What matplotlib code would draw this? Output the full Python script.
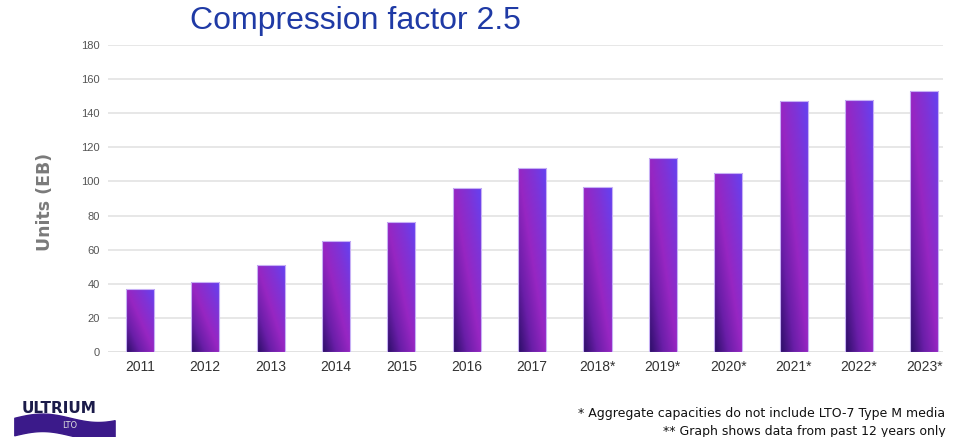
import numpy as np
import matplotlib
matplotlib.use("Agg")
import matplotlib.pyplot as plt
from matplotlib.colors import LinearSegmentedColormap
from matplotlib.patches import Rectangle

years = ["2011", "2012", "2013", "2014", "2015", "2016", "2017",
         "2018*", "2019*", "2020*", "2021*", "2022*", "2023*"]
units_eb = [37, 41, 51, 65, 76, 96, 108, 97, 114, 105, 147, 148, 153]
yticks = [0, 20, 40, 60, 80, 100, 120, 140, 160, 180]

title = "Compression factor 2.5"
ylabel = "Units (EB)"
note1 = "* Aggregate capacities do not include LTO-7 Type M media"
note2 = "** Graph shows data from past 12 years only"

cmap = LinearSegmentedColormap.from_list(
    "lto", ["#2a0e66", "#6a1ea8", "#9726c2", "#7f33d6", "#6342f2"])

fig = plt.figure(figsize=(9.55, 4.37), dpi=100)
ax = fig.add_axes([0.113, 0.1945, 0.874, 0.7025])

x = np.arange(len(years))
width = 0.43
bars = ax.bar(x, units_eb, width=width, color="none", edgecolor="none", zorder=3)

# gradient fill for each bar
nu, nv = 40, 200
u = np.linspace(0, 1, nu)
v = np.linspace(0, 1, nv)
U, V = np.meshgrid(u, v)
grad = 0.5 * U + 0.5 * V
for b in bars:
    x0, y0 = b.get_x(), b.get_y()
    w, h = b.get_width(), b.get_height()
    im = ax.imshow(grad, cmap=cmap, origin="lower", aspect="auto",
                   extent=[x0, x0 + w, y0, y0 + h], zorder=3,
                   interpolation="bilinear", vmin=0, vmax=1)
    clip = Rectangle((x0, y0), w, h, transform=ax.transData)
    im.set_clip_path(clip)
    ax.add_patch(Rectangle((x0, y0), w, h, fill=False, edgecolor="#c7b0f5",
                           linewidth=0.8, zorder=4))

ax.set_xlim(-0.49, 12.28)
ax.set_ylim(0, 180)
ax.set_yticks(yticks)
ax.set_yticklabels([str(t) for t in yticks], fontsize=8, color="#555555",
                   family="Liberation Sans")
ax.set_xticks(x)
ax.set_xticklabels(years, fontsize=10, color="#333333", family="Liberation Sans")
ax.tick_params(axis="both", length=0, pad=6)
ax.yaxis.grid(True, color="#e3e3e3", linewidth=1.2, zorder=0)
for s in ax.spines.values():
    s.set_visible(False)
ax.axhline(0, color="#dddddd", linewidth=1.2, zorder=1)

fig.text(0.047, 0.538, ylabel, rotation=90, ha="center", va="center",
         fontsize=12.5, fontweight="heavy", color="#7a7a7a", family="DejaVu Sans")

fig.text(0.199, 0.952, title, ha="left", va="center", fontsize=23,
         color="#1f3aa5", family="Liberation Sans")

fig.text(0.99, 0.054, note1, ha="right", va="center", fontsize=9,
         color="#111111", family="Liberation Sans Narrow")
fig.text(0.99, 0.012, note2, ha="right", va="center", fontsize=9,
         color="#111111", family="Liberation Sans Narrow")

# logo
lax = fig.add_axes([0.015, 0.0, 0.105, 0.08])
lax.set_xlim(0, 1)
lax.set_ylim(0, 1)
lax.axis("off")
wx = np.linspace(0, 1, 100)
top = 0.55 + 0.12 * np.sin(wx * 2 * np.pi * 0.9)
bot = 0.05 + 0.12 * np.sin(wx * 2 * np.pi * 0.9)
lax.fill_between(wx, bot, top, color="#3b1a8a")
lax.text(0.45, 0.82, "ULTRIUM", ha="center", va="center", fontsize=11,
         fontweight="heavy", color="#1b1b4a", family="DejaVu Sans")
lax.text(0.55, 0.32, "LTO", ha="center", va="center", fontsize=6,
         color="#dddddd", family="DejaVu Sans")

fig.savefig("out.png", dpi=100)
